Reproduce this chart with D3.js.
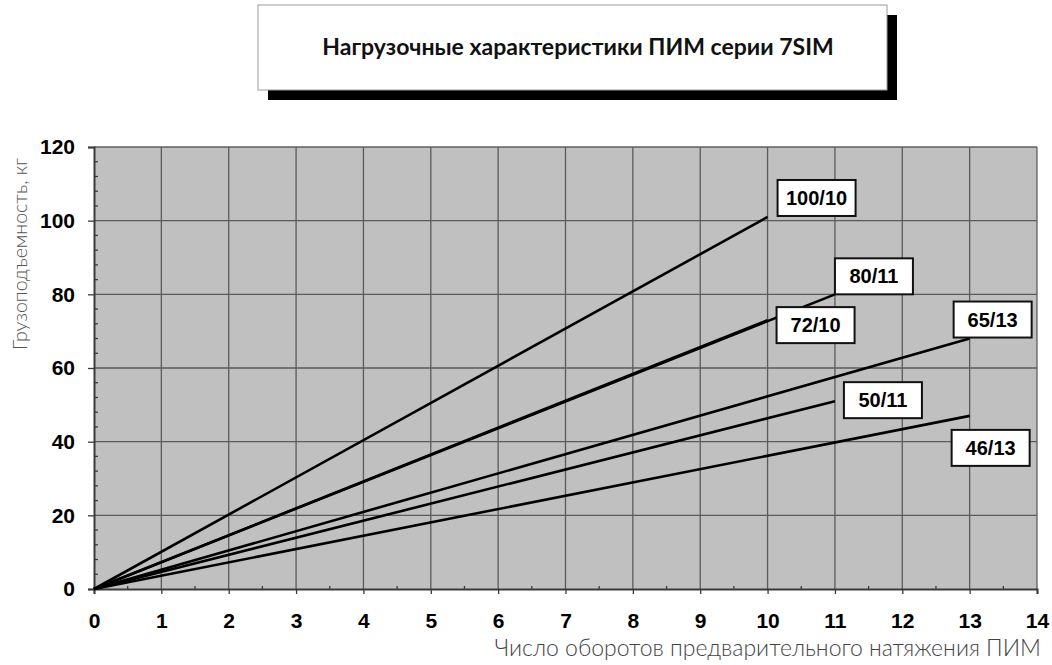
<!DOCTYPE html>
<html>
<head>
<meta charset="utf-8">
<script src="https://cdn.jsdelivr.net/npm/d3@7"></script>
<style>
  html, body { margin: 0; padding: 0; background: #fff; }
  svg { display: block; }
</style>
</head>
<body>
<div id="chart"></div>
<script>
// chart data
const chartTitle = "Нагрузочные характеристики ПИМ серии 7SIM";
const xTitle = "Число оборотов предварительного натяжения ПИМ";
const yTitle = "Грузоподъемность, кг";
const seriesNames = ["100/10", "80/11", "72/10", "65/13", "50/11", "46/13"];
const seriesTurns = [[0, 10], [0, 11], [0, 10], [0, 13], [0, 11], [0, 13]];
const seriesLoads = [[0, 101], [0, 80], [0, 73], [0, 68], [0, 51], [0, 47]];
const xTicks = d3.range(0, 15);
const yTicks = [0, 20, 40, 60, 80, 100, 120];

(function() {
    const W = 1052, H = 665;
    const plot = { left: 94, right: 1037, top: 147, bottom: 589 };
    const colors = { bg: "#c0c0c0", grid: "#4a4a4a", ink: "#000", soft: "#3a3a3a" };
    const tickFont = '"Liberation Sans", Arial, sans-serif';
    const titleFont = '"Lato", "DejaVu Sans", sans-serif';

    // где ставить подписи относительно конца линии (в пикселях)
    const labelPlace = {
        "100/10": { dx: 10, dy: -1, anchor: "bl" },
        "80/11": { dx: 0, dy: 0, anchor: "bl" },
        "72/10": { dx: 9, dy: -13, anchor: "tl" },
        "65/13": { dx: -16, dy: -1, anchor: "bl" },
        "50/11": { dx: 9, dy: -19, anchor: "tl" },
        "46/13": { dx: -18, dy: 14, anchor: "tl" }
    };
    const boxW = 78, boxH = 36;

    const svg = d3.select("#chart").append("svg")
        .attr("width", W).attr("height", H);

    const x = d3.scaleLinear().domain([0, 14]).range([plot.left, plot.right]);
    const y = d3.scaleLinear().domain([0, 120]).range([plot.bottom, plot.top]);

    // title box with shadow
    const tb = { x: 258, y: 5, w: 629, h: 85 };
    svg.append("rect").attr("x", tb.x + 10).attr("y", tb.y + 10)
        .attr("width", tb.w).attr("height", tb.h).attr("fill", "#000");
    svg.append("rect").attr("x", tb.x).attr("y", tb.y)
        .attr("width", tb.w).attr("height", tb.h)
        .attr("fill", "#fff").attr("stroke", "#9a9a9a").attr("stroke-width", 1);
    svg.append("text")
        .attr("x", 578).attr("y", 55)
        .attr("text-anchor", "middle")
        .attr("font-family", titleFont).attr("font-weight", 700)
        .attr("font-size", "23px").attr("fill", "#111")
        .text(chartTitle);

    // plot background
    svg.append("rect")
        .attr("x", plot.left).attr("y", plot.top)
        .attr("width", plot.right - plot.left).attr("height", plot.bottom - plot.top)
        .attr("fill", colors.bg);

    // grid
    const grid = svg.append("g").attr("stroke", colors.grid).attr("stroke-width", 1.3).attr("opacity", 0.85);
    grid.selectAll(".gx").data(xTicks.slice(1)).enter().append("line")
        .attr("x1", d => x(d)).attr("x2", d => x(d))
        .attr("y1", plot.top).attr("y2", plot.bottom);
    grid.selectAll(".gy").data(yTicks.slice(1)).enter().append("line")
        .attr("x1", plot.left).attr("x2", plot.right)
        .attr("y1", d => y(d)).attr("y2", d => y(d));

    // x axis
    const xAxis = svg.append("g")
        .attr("transform", `translate(0,${plot.bottom})`)
        .call(d3.axisBottom(x).tickValues(xTicks).tickSize(5).tickPadding(19).tickFormat(d3.format("d")));
    xAxis.select(".domain").attr("stroke", colors.soft).attr("stroke-width", 2);
    xAxis.selectAll(".tick line").attr("stroke", colors.soft).attr("stroke-width", 1.3);
    xAxis.selectAll("text")
        .attr("font-family", tickFont).attr("font-weight", 700)
        .attr("font-size", "21px").attr("fill", "#000");

    // x minor ticks (по половинкам)
    svg.append("g").selectAll("line")
        .data(d3.range(0.5, 14, 1)).enter().append("line")
        .attr("x1", d => x(d)).attr("x2", d => x(d))
        .attr("y1", plot.bottom - 3).attr("y2", plot.bottom)
        .attr("stroke", colors.soft).attr("stroke-width", 1.3);

    // y axis
    const yAxis = svg.append("g")
        .attr("transform", `translate(${plot.left},0)`)
        .call(d3.axisLeft(y).tickValues(yTicks).tickSize(6).tickPadding(13));
    yAxis.select(".domain").attr("stroke", colors.soft).attr("stroke-width", 2);
    yAxis.selectAll(".tick line").attr("stroke", colors.soft).attr("stroke-width", 1.3);
    yAxis.selectAll("text")
        .attr("font-family", tickFont).attr("font-weight", 700)
        .attr("font-size", "21px").attr("fill", "#000");

    // y minor ticks (каждые 4 кг)
    svg.append("g").selectAll("line")
        .data(d3.range(4, 120, 4).filter(v => v % 20 !== 0)).enter().append("line")
        .attr("x1", plot.left).attr("x2", plot.left + 4)
        .attr("y1", d => y(d)).attr("y2", d => y(d))
        .attr("stroke", colors.soft).attr("stroke-width", 1.3);

    // axis titles
    svg.append("text")
        .attr("transform", `translate(27,254) rotate(-90)`)
        .attr("text-anchor", "middle")
        .attr("font-family", titleFont).attr("font-weight", 300)
        .attr("font-size", "19.5px").attr("fill", "#555")
        .text(yTitle);
    svg.append("text")
        .attr("x", 1041).attr("y", 656)
        .attr("text-anchor", "end")
        .attr("font-family", titleFont).attr("font-weight", 300)
        .attr("font-size", "23px").attr("fill", "#444")
        .text(xTitle);

    // series lines
    const series = seriesNames.map((name, i) => ({
        name,
        points: seriesTurns[i].map((t, j) => ({ t, v: seriesLoads[i][j] }))
    }));
    const line = d3.line().x(d => x(d.t)).y(d => y(d.v));

    svg.append("g").selectAll("path")
        .data(series).enter().append("path")
        .attr("d", d => line(d.points))
        .attr("fill", "none")
        .attr("stroke", "#000")
        .attr("stroke-width", 2.6);

    // labels
    const labels = svg.append("g").selectAll("g")
        .data(series).enter().append("g")
        .attr("transform", d => {
            const last = d.points[d.points.length - 1];
            const p = labelPlace[d.name];
            const ex = x(last.t) + p.dx;
            const ey = y(last.v) + p.dy;
            const top = p.anchor === "bl" ? ey - boxH : ey;
            return `translate(${ex},${top})`;
        });
    labels.append("rect")
        .attr("width", boxW).attr("height", boxH)
        .attr("fill", "#fff").attr("stroke", "#111").attr("stroke-width", 2);
    labels.append("text")
        .attr("x", boxW / 2).attr("y", boxH / 2 + 7)
        .attr("text-anchor", "middle")
        .attr("font-family", tickFont).attr("font-weight", 700)
        .attr("font-size", "20px").attr("fill", "#000")
        .text(d => d.name);
})();
</script>
</body>
</html>
